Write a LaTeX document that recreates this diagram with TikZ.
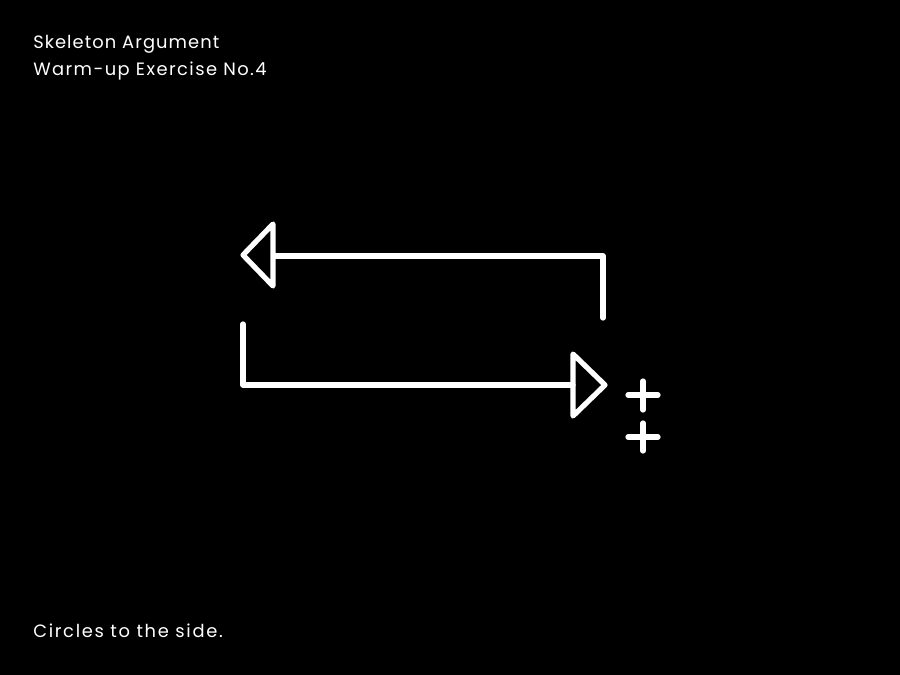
\documentclass[tikz,border=0pt]{standalone}
\usepackage{fontspec}
\setmainfont[LetterSpace=6]{Poppins}
\newfontfamily\widerA[LetterSpace=8]{Poppins}
\newfontfamily\widerB[LetterSpace=9.5]{Poppins}
\begin{document}
\begin{tikzpicture}[x=0.75pt,y=-0.75pt,
  stroke/.style={draw=white,line width=3.9pt,line cap=round,line join=round},
  lbl/.style={text=white,anchor=base west,inner sep=0pt,font=\fontsize{13.4pt}{16pt}\selectfont}]
\fill[black] (0,0) rectangle (900,675);
\useasboundingbox (0,0) rectangle (900,675);
\node[lbl] (t1) at (33,48) {Skeleton Argument};
\node[lbl] (t2) at (33,75) {\widerA Warm-up Exercise No.4};
\node[lbl] (t3) at (33,637) {\widerB Circles to the side.};
% top arrow (pointing left)
\coordinate (a1) at (603,318);
\coordinate (a2) at (603,256);
\coordinate (a3) at (274,256);
\draw[stroke] (a1) -- (a2) -- (a3);
\draw[stroke] (273,224) -- (243,255) -- (273,286) -- cycle;
% bottom arrow (pointing right)
\coordinate (b1) at (243,324);
\coordinate (b2) at (243,385);
\coordinate (b3) at (573,385);
\draw[stroke] (b1) -- (b2) -- (b3);
\draw[stroke] (573,354) -- (605,385) -- (573,416) -- cycle;
% plus signs
\draw[stroke] (628,395) -- (658,395) (643,381) -- (643,410);
\draw[stroke] (628,437) -- (658,437) (643,423) -- (643,451);
\end{tikzpicture}
\end{document}
